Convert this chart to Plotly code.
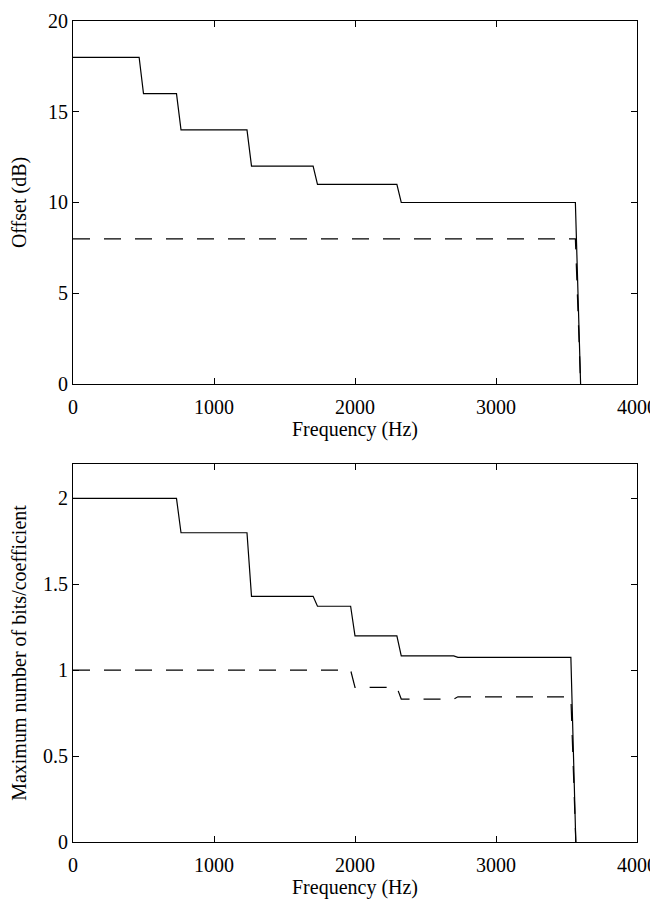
import plotly.graph_objects as go
from plotly.subplots import make_subplots

# top panel: offset (dB) vs frequency
offset_freq = [0, 469, 500, 734, 766, 1234, 1266, 1703, 1734, 2297, 2328, 3563, 3600]
offset_solid = [18, 18, 16, 16, 14, 14, 12, 12, 11, 11, 10, 10, 0]
offset_dash_freq = [0, 3563, 3600]
offset_dash = [8, 8, 0]

# bottom panel: max bits per coefficient vs frequency
bits_freq = [0, 734, 766, 1234, 1266, 1703, 1734, 1969, 2000, 2297, 2328, 2700, 2730, 3531, 3566]
bits_solid = [2, 2, 1.8, 1.8, 1.43, 1.43, 1.372, 1.372, 1.2, 1.2, 1.083, 1.083, 1.075, 1.075, 0]
bits_dash_freq = [0, 1969, 2000, 2297, 2328, 2700, 2730, 3531, 3566]
bits_dash = [1, 1, 0.9, 0.9, 0.832, 0.832, 0.845, 0.845, 0]

x_ticks = [0, 1000, 2000, 3000, 4000]

font = dict(family="Liberation Serif", size=20, color="black")

fig = make_subplots(rows=2, cols=1)

line_solid = dict(color="black", width=1.2)
line_dash = dict(color="black", width=1.2, dash="17px,14px")

fig.add_trace(go.Scatter(x=offset_freq, y=offset_solid, mode="lines", line=line_solid), row=1, col=1)
fig.add_trace(go.Scatter(x=offset_dash_freq, y=offset_dash, mode="lines", line=line_dash), row=1, col=1)
fig.add_trace(go.Scatter(x=bits_freq, y=bits_solid, mode="lines", line=line_solid), row=2, col=1)
fig.add_trace(go.Scatter(x=bits_dash_freq, y=bits_dash, mode="lines", line=line_dash), row=2, col=1)

axis_style = dict(showline=True, linecolor="black", linewidth=1, mirror="ticks",
                  ticks="inside", ticklen=6, tickcolor="black", showgrid=False,
                  zeroline=False, tickfont=font, title_font=font, automargin=False,
                  ticklabeloverflow="allow")

# page body has an 8px margin, so the figure is sized and offset for that
fig.update_xaxes(range=[0, 4000], tickvals=x_ticks, title_text="Frequency (Hz)",
                 title_standoff=2, ticklabelstandoff=5, **axis_style)
fig.update_xaxes(domain=[0, 1])
fig.update_yaxes(**axis_style)
fig.update_yaxes(range=[0, 20], tickvals=[0, 5, 10, 15, 20], title_text="Offset (dB)",
                 title_standoff=16, domain=[0.5579, 1.0], row=1, col=1)
fig.update_yaxes(range=[0, 2.2], tickvals=[0, 0.5, 1, 1.5, 2],
                 ticktext=["0", "0.5", "1", "1.5", "2"],
                 title_text="Maximum number of bits/coefficient",
                 title_standoff=11, domain=[0, 0.4604], row=2, col=1)

fig.update_layout(width=650, height=899, showlegend=False,
                  paper_bgcolor="white", plot_bgcolor="white",
                  margin=dict(l=65, r=21, t=13, b=65), font=font)

fig.write_html("out.html")
